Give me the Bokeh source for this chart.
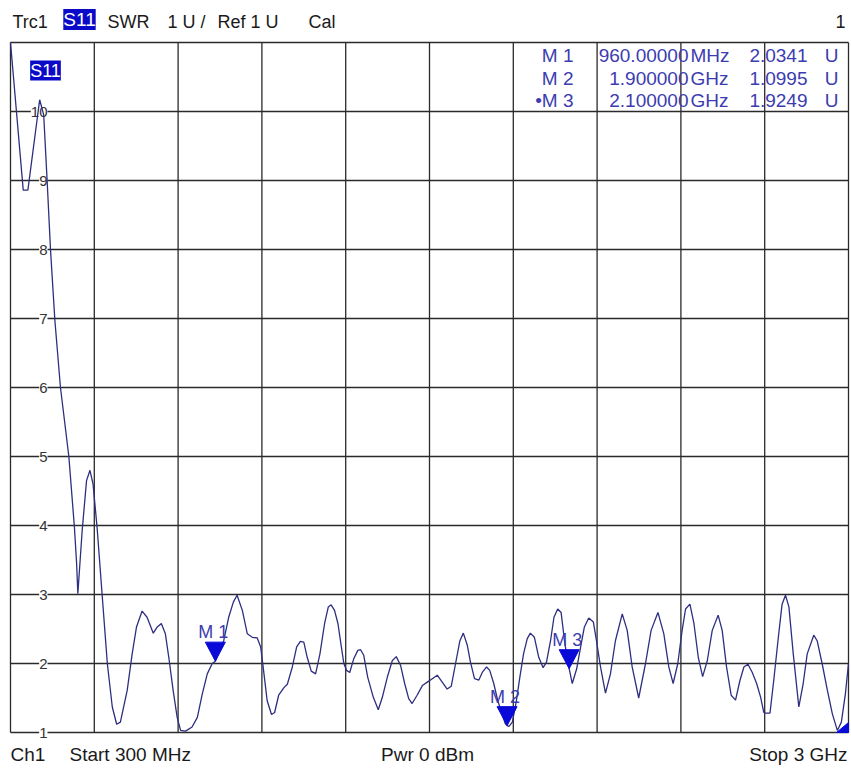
from bokeh.plotting import figure
from bokeh.models import Range1d, Label, LabelSet, ColumnDataSource
from bokeh.core.properties import value
from bokeh.embed import file_html
from bokeh.resources import INLINE

# ---------------- data ----------------
x_start_mhz = 300
x_stop_mhz = 3000
y_ticks = [1, 2, 3, 4, 5, 6, 7, 8, 9, 10, 11]
y_tick_labels = ["1", "2", "3", "4", "5", "6", "7", "8", "9", "10"]
x_divisions = 10

freq_mhz = [
    300, 341, 356, 394, 407, 418, 429, 443, 461, 488, 506, 513, 517, 531, 545, 556, 566, 579,
    595, 612, 628, 642, 654, 676, 692, 706, 724, 740, 760, 773, 786, 799, 810, 824, 837, 848,
    864, 885, 902, 918, 934, 950, 960, 987, 1003, 1018, 1030, 1047, 1063, 1079, 1095, 1106,
    1114, 1127, 1141, 1151, 1164, 1181, 1192, 1208, 1222, 1234, 1245, 1256, 1269, 1283, 1297,
    1312, 1324, 1333, 1344, 1355, 1366, 1374, 1383, 1393, 1406, 1419, 1428, 1438, 1451, 1469,
    1485, 1498, 1514, 1530, 1543, 1557, 1570, 1583, 1594, 1610, 1627, 1643, 1659, 1675, 1691,
    1707, 1720, 1734, 1748, 1759, 1772, 1782, 1795, 1809, 1820, 1834, 1844, 1857, 1870, 1884,
    1894, 1900, 1906, 1917, 1930, 1941, 1953, 1965, 1975, 1988, 2002, 2016, 2027, 2040, 2051,
    2063, 2074, 2085, 2096, 2100, 2110, 2124, 2137, 2149, 2163, 2178, 2188, 2201, 2217, 2233,
    2249, 2271, 2287, 2303, 2324, 2346, 2364, 2386, 2405, 2421, 2435, 2450, 2464, 2475, 2489,
    2502, 2516, 2530, 2545, 2561, 2580, 2593, 2607, 2622, 2636, 2650, 2663, 2676, 2690, 2704,
    2717, 2727, 2733, 2747, 2759, 2774, 2786, 2797, 2808, 2822, 2840, 2854, 2867, 2888, 2899,
    2915, 2932, 2948, 2964, 2977, 2990, 3000,
]
swr = [
    11.0, 8.86, 8.86, 10.17, 9.95, 9.0, 7.99, 6.97, 6.0, 5.0, 3.97, 3.45, 3.01, 3.93, 4.65, 4.80, 4.60, 3.97,
    3.01, 2.0, 1.37, 1.12, 1.15, 1.61, 2.14, 2.53, 2.76, 2.67, 2.44, 2.53, 2.58, 2.43, 2.09, 1.61, 1.22, 1.03,
    1.02, 1.08, 1.22, 1.56, 1.85, 2.0, 2.034, 2.33, 2.67, 2.89, 2.99, 2.77, 2.43, 2.38, 2.37, 2.24,
    1.95, 1.46, 1.26, 1.29, 1.54, 1.65, 1.70, 1.95, 2.24, 2.32, 2.31, 2.09, 1.89, 1.85, 2.14,
    2.58, 2.82, 2.85, 2.77, 2.58, 2.24, 2.0, 1.90, 1.87, 2.07, 2.19, 2.20, 2.12, 1.80, 1.51,
    1.33, 1.51, 1.80, 2.04, 2.10, 1.97, 1.71, 1.49, 1.42, 1.54, 1.68, 1.73, 1.78, 1.83, 1.73,
    1.63, 1.67, 2.0, 2.33, 2.44, 2.26, 2.02, 1.78, 1.76, 1.87, 1.95, 1.90, 1.71, 1.46, 1.27,
    1.13, 1.0995, 1.09, 1.15, 1.46, 1.80, 2.14, 2.36, 2.44, 2.38, 2.09, 1.94, 2.02, 2.33, 2.67,
    2.79, 2.74, 2.33, 2.0, 1.925, 1.71, 1.92, 2.24, 2.53, 2.66, 2.60, 2.33, 1.95, 1.57, 1.85,
    2.33, 2.72, 2.48, 1.95, 1.50, 2.0, 2.48, 2.74, 2.43, 1.95, 1.71, 2.0, 2.48, 2.79, 2.86,
    2.58, 2.09, 1.81, 2.04, 2.48, 2.70, 2.48, 1.95, 1.54, 1.47, 1.75, 1.95, 1.99, 1.87, 1.71,
    1.51, 1.29, 1.28, 1.28, 1.75, 2.38, 2.86, 2.99, 2.82, 2.14, 1.37, 1.71, 2.14, 2.41, 2.33,
    2.0, 1.61, 1.27, 1.03, 1.15, 1.56, 2.0,
]

marker_names = ["M 1", "M 2", "M 3"]
marker_active = [False, False, True]
marker_freq_mhz = [960, 1900, 2100]
marker_swr = [2.0341, 1.0995, 1.9249]

# ---------------- style / layout ----------------
FONT = "Liberation Sans"
W, H = 850, 770
# diagram box inside the canvas (pixels)
BOX_L, BOX_R, BOX_T, BOX_B = 10, 848, 42, 732
GRID_COLOR = "#2a2a2a"
TRACE_COLOR = "#2e2e80"
MARK_COLOR = "#0a0ad8"
TABLE_COLOR = "#3c3cb0"
HILITE = "#0a0ac8"

y_min, y_max = y_ticks[0], y_ticks[-1]
step = (x_stop_mhz - x_start_mhz) / x_divisions
x_ticks = [x_start_mhz + i * step for i in range(x_divisions + 1)]

px_x = (x_stop_mhz - x_start_mhz) / (BOX_R - BOX_L)
px_y = (y_max - y_min) / (BOX_B - BOX_T)
xr = Range1d(x_start_mhz - BOX_L * px_x, x_stop_mhz + (W - BOX_R) * px_x)
yr = Range1d(y_min - (H - BOX_B) * px_y, y_max + BOX_T * px_y)

p = figure(width=W, height=H, x_range=xr, y_range=yr,
           x_axis_location=None, y_axis_location=None,
           output_backend="svg", toolbar_location=None,
           min_border=0)
p.background_fill_color = "white"
p.border_fill_color = "white"
p.outline_line_color = None
p.xgrid.visible = False
p.ygrid.visible = False

# diagram grid, bounded to the measurement box
nx, ny = len(x_ticks), len(y_ticks)
vg = p.segment(x0=x_ticks, y0=[y_min] * nx, x1=x_ticks, y1=[y_max] * nx,
               line_color=GRID_COLOR, line_width=1.3)
hg = p.segment(x0=[x_start_mhz] * ny, y0=y_ticks, x1=[x_stop_mhz] * ny, y1=y_ticks,
               line_color=GRID_COLOR, line_width=1.3)
vg.level = "underlay"
hg.level = "underlay"

# y tick labels inside the diagram
tick_src = ColumnDataSource(dict(
    x=[x_start_mhz] * len(y_tick_labels),
    y=y_ticks[:len(y_tick_labels)],
    text=y_tick_labels))
p.add_layout(LabelSet(x="x", y="y", text="text", source=tick_src, x_offset=37,
                      text_align="right", text_baseline="middle",
                      text_font=value(FONT), text_font_size="15px", text_color="#333333",
                      background_fill_color="white", level="underlay"))

# trace
p.line(freq_mhz, swr, line_color=TRACE_COLOR, line_width=1.3)

# marker triangles (tip at marker point)
hw, th = 10 * px_x, 19 * px_y
tri_xs = [[f - hw, f + hw, f] for f in marker_freq_mhz]
tri_ys = [[v + th, v + th, v] for v in marker_swr]
p.patches(tri_xs, tri_ys, fill_color=MARK_COLOR, line_color=MARK_COLOR)

msrc = ColumnDataSource(dict(x=marker_freq_mhz, y=marker_swr, text=marker_names))
p.add_layout(LabelSet(x="x", y="y", text="text", source=msrc, x_offset=-2, y_offset=23,
                      text_align="center", text_baseline="alphabetic",
                      text_font=value(FONT), text_font_size="18px", text_color=TABLE_COLOR))

# corner indicator
p.patch([x_stop_mhz - 12 * px_x, x_stop_mhz, x_stop_mhz],
        [y_min, y_min, y_min + 10 * px_y], fill_color=MARK_COLOR, line_color=MARK_COLOR)


def lab(text, x, y, xo, yo, align, size, color="#1a1a1a", bg=None, baseline="middle"):
    p.add_layout(Label(x=x, y=y, x_offset=xo, y_offset=yo, text=text,
                       text_align=align, text_baseline=baseline, text_font=FONT,
                       text_font_size=f"{size}px", text_color=color,
                       background_fill_color=bg))


# header
lab("Trc1", x_start_mhz, y_max, 2, 21, "left", 18)
lab("S11", x_start_mhz, y_max, 69, 23, "center", 19, color="white", bg=HILITE)
lab("SWR", x_start_mhz, y_max, 97, 21, "left", 18)
lab("1 U /", x_start_mhz, y_max, 157, 21, "left", 18)
lab("Ref 1 U", x_start_mhz, y_max, 207, 21, "left", 18)
lab("Cal", x_start_mhz, y_max, 298, 21, "left", 18)
lab("1", x_stop_mhz, y_max, -3, 21, "right", 18)

# trace label in the diagram
lab("S11", x_start_mhz, y_max, 35, -28, "center", 18, color="white", bg=HILITE)

# footer
lab("Ch1", x_start_mhz, y_min, 0, -22, "left", 19)
lab("Start 300 MHz", x_start_mhz, y_min, 59, -22, "left", 19)
lab("Pwr 0 dBm", (x_start_mhz + x_stop_mhz) / 2, y_min, -2, -22, "center", 19)
lab("Stop 3 GHz", x_stop_mhz, y_min, -1, -22, "right", 19)


# marker table
def fmt_freq(f):
    return (f"{f:.5f}", "MHz") if f < 1000 else (f"{f / 1000:.6f}", "GHz")


row_off = [-13 - 22.5 * i for i in range(len(marker_names))]
tsrc = ColumnDataSource(dict(
    x=[x_stop_mhz] * len(marker_names),
    y=[y_max] * len(marker_names),
    yo=row_off,
    name=[("\u2022" if a else "") + n for n, a in zip(marker_names, marker_active)],
    fval=[fmt_freq(f)[0] for f in marker_freq_mhz],
    unit=[fmt_freq(f)[1] for f in marker_freq_mhz],
    val=[f"{v:.4f}" for v in marker_swr],
    u=["U"] * len(marker_names)))
for col, xo, align in [("name", -275, "right"), ("fval", -160, "right"),
                       ("unit", -158, "left"), ("val", -41, "right"), ("u", -10, "right")]:
    p.add_layout(LabelSet(x="x", y="y", text=col, source=tsrc, x_offset=xo, y_offset="yo",
                          text_align=align, text_baseline="middle",
                          text_font=value(FONT), text_font_size="19px", text_color=TABLE_COLOR))

open("out.html", "w").write(file_html(p, INLINE))
